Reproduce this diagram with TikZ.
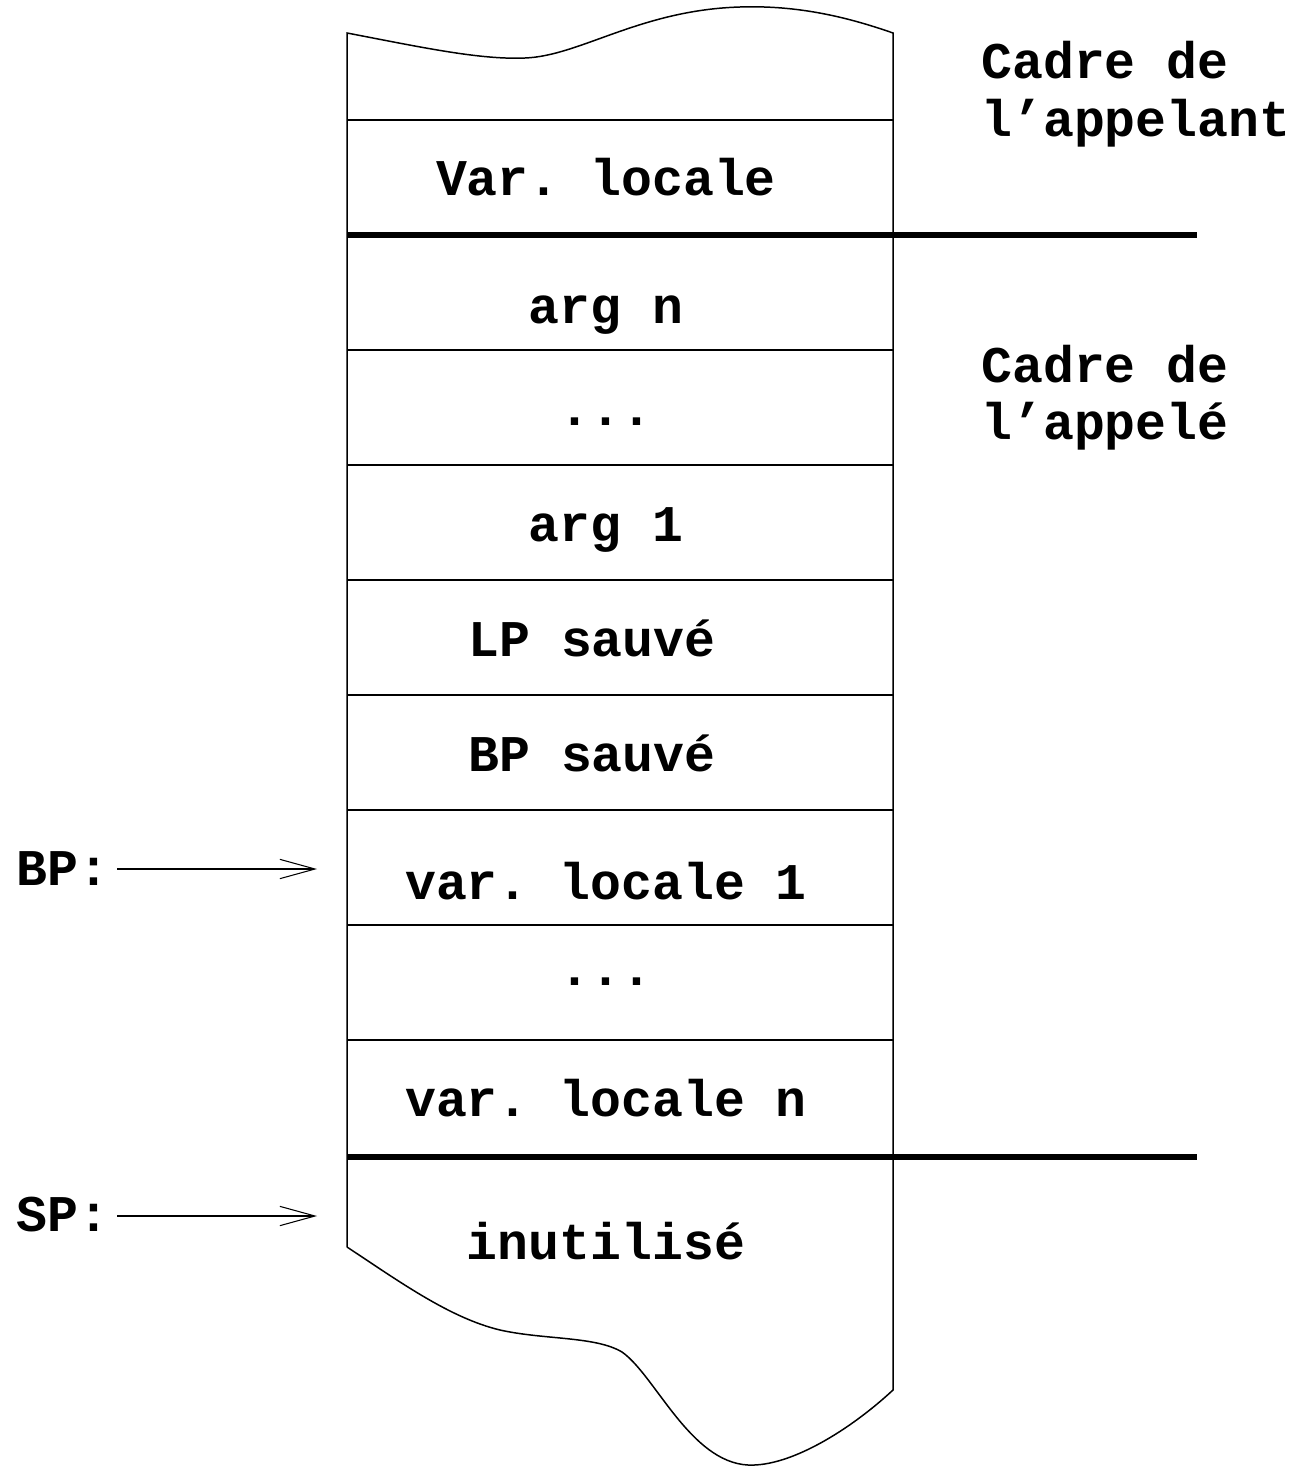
\documentclass[tikz,border=0pt]{standalone}
\usepackage{fontspec}
\setmonofont{Liberation Mono}
\usetikzlibrary{arrows.meta}
\begin{document}
\begin{tikzpicture}[x=0.02cm,y=-0.02cm,
  thinline/.style={line width=0.85pt},
  thickline/.style={line width=2.9pt},
  cell/.style={font=\fontsize{29.3}{34}\selectfont\ttfamily\bfseries, inner sep=0pt, anchor=base},
  side/.style={font=\fontsize{29.3}{34}\selectfont\ttfamily\bfseries, inner sep=0pt, anchor=base west},
  reg/.style={font=\fontsize{29.3}{34}\selectfont\ttfamily\bfseries, inner xsep=4.5pt, inner ysep=0pt, anchor=base west},
  ptr/.style={line width=0.6pt, -{Straight Barb[length=20pt,width=11pt,line width=0.6pt]}}]
\useasboundingbox (0,0) rectangle (1299,1467);
% stack outline
\draw[thinline] (347,1247) -- (347,33)
  .. controls (420,47) and (480,60) .. (525,58)
  .. controls (580,56) and (640,10) .. (740,7)
  .. controls (800,5) and (850,18) .. (893,33) -- (893,1390)
  .. controls (850,1430) and (790,1467) .. (748,1465)
  .. controls (690,1462) and (655,1375) .. (622,1352)
  .. controls (595,1336) and (545,1340) .. (500,1330)
  .. controls (450,1318) and (400,1282) .. (347,1247);
% separators
\foreach \y in {120,350,465,580,695,810,925,1040}
  \draw[thinline] (347,\y) -- (893,\y);
\draw[thickline] (347,235) -- (1197,235);
\draw[thickline] (347,1157) -- (1197,1157);
% cells
\node[cell] (c0) at (606,195) {Var. locale};
\node[cell] (c1) at (606,323) {arg n};
\node[cell] (c2) at (606,425) {...};
\node[cell] (c3) at (606,541) {arg 1};
\node[cell] (c4) at (592,656) {LP sauvé};
\node[cell] (c5) at (592,771) {BP sauvé};
\node[cell] (c6) at (606,899) {var. locale 1};
\node[cell] (c7) at (606,985) {...};
\node[cell] (c8) at (606,1116) {var. locale n};
\node[cell] (c9) at (606,1259) {inutilisé};
% side labels
\node[side] (s1) at (981,78) {Cadre de};
\node[side] (s2) at (981,136) {l’appelant};
\node[side] (s3) at (981,382) {Cadre de};
\node[side] (s4) at (981,439) {l’appelé};
% registers
\node[reg] (bp) at (8,885) {BP:};
\node[reg] (sp) at (8,1231) {SP:};
\coordinate (bptip) at (317,869);
\coordinate (sptip) at (317,1216);
\draw[ptr] (bp.east |- bptip) -- (bptip);
\draw[ptr] (sp.east |- sptip) -- (sptip);
\end{tikzpicture}
\end{document}
